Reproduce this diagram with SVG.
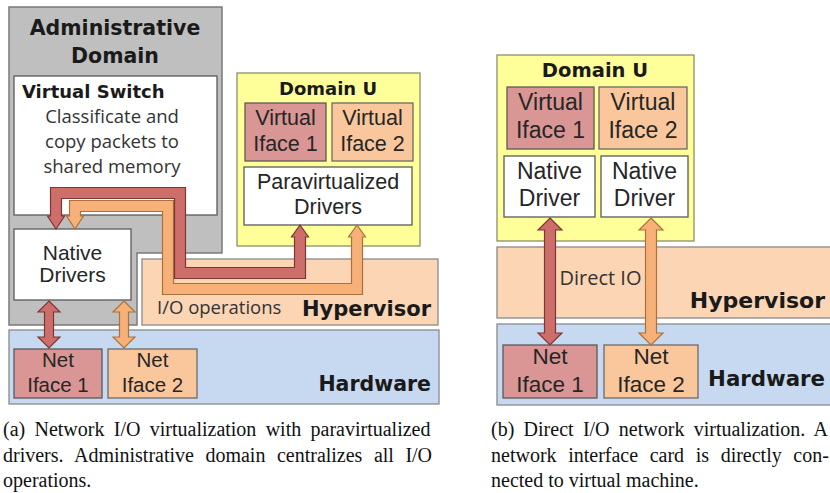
<svg xmlns="http://www.w3.org/2000/svg" width="830" height="493" viewBox="0 0 830 493">
  <style>
    .bg { fill: #ffffff; }
    .admin { fill: #bfbfbf; stroke: #7a7a7a; stroke-width: 1.5; }
    .white { fill: #ffffff; stroke: #5a5a5a; stroke-width: 1.3; }
    .domu { fill: #ffff99; stroke: #8e8e6a; stroke-width: 1.3; }
    .hyp { fill: #fcd5b5; stroke: #8a8a8a; stroke-width: 1.3; }
    .hw { fill: #c6d9f1; stroke: #8a8a8a; stroke-width: 1.3; }
    .if1 { fill: #d99694; stroke: #5a5a5a; stroke-width: 1.3; }
    .if2 { fill: #fac79c; stroke: #6a6a6a; stroke-width: 1.3; }
    .ar1 { fill: #cd6e6a; stroke: #7d3633; stroke-width: 1.2; stroke-linejoin: miter; }
    .ar2 { fill: #f7b077; stroke: #a8723c; stroke-width: 1.2; stroke-linejoin: miter; }
    .title { font-family: "DejaVu Sans", Verdana, sans-serif; font-weight: bold; fill: #1a1a1a; }
    .lbl { font-family: "Liberation Sans", Arial, sans-serif; fill: #262626; text-anchor: middle; }
    .note { font-family: "Open Sans", "DejaVu Sans", sans-serif; fill: #333333; }
    .cap { font-family: "Liberation Serif", "Times New Roman", serif; font-size: 20px; fill: #111111; }
  </style>

  <rect class="bg" x="0" y="0" width="830" height="493"/>

  <!-- (a) paravirtualized drivers -->
  <g id="admin-domain">
    <path class="admin" d="M9,7 H222 V253 H137 V325 H9 Z"/>
    <text class="title" x="115" y="35" font-size="20.5" text-anchor="middle">Administrative</text>
    <text class="title" x="115" y="63" font-size="20.5" text-anchor="middle">Domain</text>
  </g>

  <g id="virtual-switch">
    <rect class="white" x="14" y="76" width="203" height="139"/>
    <text class="title" x="22" y="98" font-size="18">Virtual Switch</text>
    <text class="note" x="112" y="123" font-size="18.5" text-anchor="middle">Classificate and</text>
    <text class="note" x="112" y="148" font-size="18.5" text-anchor="middle">copy packets to</text>
    <text class="note" x="112" y="173" font-size="18.5" text-anchor="middle">shared memory</text>
  </g>

  <g id="native-drivers">
    <rect class="white" x="14" y="229" width="117" height="71"/>
    <text class="lbl" x="72.5" y="260" font-size="21">Native</text>
    <text class="lbl" x="72.5" y="282" font-size="21">Drivers</text>
  </g>

  <g id="hypervisor-a">
    <rect class="hyp" x="142" y="259" width="296" height="66"/>
    <text class="note" x="157" y="314" font-size="18.5">I/O operations</text>
    <text class="title" x="431" y="316" font-size="21" text-anchor="end">Hypervisor</text>
  </g>

  <g id="hardware-a">
    <rect class="hw" x="9" y="330" width="430" height="74"/>
    <text class="title" x="431" y="391" font-size="20.5" text-anchor="end">Hardware</text>
  </g>

  <g id="net-iface-1-a">
    <rect class="if1" x="14" y="349" width="88" height="49"/>
    <text class="lbl" x="58" y="367" font-size="20.5">Net</text>
    <text class="lbl" x="58" y="392" font-size="20.5">Iface 1</text>
  </g>

  <g id="net-iface-2-a">
    <rect class="if2" x="108" y="349" width="89" height="49"/>
    <text class="lbl" x="152.5" y="367" font-size="20.5">Net</text>
    <text class="lbl" x="152.5" y="392" font-size="20.5">Iface 2</text>
  </g>

  <g id="domain-u-a">
    <rect class="domu" x="237" y="73" width="183" height="173"/>
    <text class="title" x="328" y="95" font-size="18" text-anchor="middle">Domain U</text>
  </g>

  <g id="virtual-iface-1-a">
    <rect class="if1" x="245" y="103" width="81" height="58"/>
    <text class="lbl" x="285.5" y="125" font-size="21.5">Virtual</text>
    <text class="lbl" x="285.5" y="151" font-size="21.5">Iface 1</text>
  </g>

  <g id="virtual-iface-2-a">
    <rect class="if2" x="332" y="103" width="81" height="58"/>
    <text class="lbl" x="372.5" y="125" font-size="21.5">Virtual</text>
    <text class="lbl" x="372.5" y="151" font-size="21.5">Iface 2</text>
  </g>

  <g id="paravirtualized-drivers">
    <rect class="white" x="244" y="167" width="168" height="58"/>
    <text class="lbl" x="328" y="189" font-size="21.5">Paravirtualized</text>
    <text class="lbl" x="328" y="214" font-size="21.5">Drivers</text>
  </g>

  <!-- (b) direct I/O -->
  <g id="domain-u-b">
    <rect class="domu" x="497" y="55" width="197" height="186"/>
    <text class="title" x="595" y="77" font-size="19.5" text-anchor="middle">Domain U</text>
  </g>

  <g id="virtual-iface-1-b">
    <rect class="if1" x="507" y="87" width="87" height="62"/>
    <text class="lbl" x="550.5" y="110" font-size="23">Virtual</text>
    <text class="lbl" x="550.5" y="138" font-size="23">Iface 1</text>
  </g>

  <g id="virtual-iface-2-b">
    <rect class="if2" x="599" y="87" width="88" height="62"/>
    <text class="lbl" x="643" y="110" font-size="23">Virtual</text>
    <text class="lbl" x="643" y="138" font-size="23">Iface 2</text>
  </g>

  <g id="native-driver-1-b">
    <rect class="white" x="504" y="156" width="91" height="61"/>
    <text class="lbl" x="549.5" y="179" font-size="23">Native</text>
    <text class="lbl" x="549.5" y="206" font-size="23">Driver</text>
  </g>

  <g id="native-driver-2-b">
    <rect class="white" x="601" y="156" width="87" height="61"/>
    <text class="lbl" x="644.5" y="179" font-size="23">Native</text>
    <text class="lbl" x="644.5" y="206" font-size="23">Driver</text>
  </g>

  <g id="hypervisor-b">
    <rect class="hyp" x="497" y="247" width="340" height="71"/>
    <text class="note" x="600.5" y="285" font-size="20" text-anchor="middle">Direct IO</text>
    <text class="title" x="825" y="308" font-size="22" text-anchor="end">Hypervisor</text>
  </g>

  <g id="hardware-b">
    <rect class="hw" x="497" y="324" width="340" height="81"/>
    <text class="title" x="825" y="386" font-size="21.3" text-anchor="end">Hardware</text>
  </g>

  <g id="net-iface-1-b">
    <rect class="if1" x="503" y="345" width="94" height="53"/>
    <text class="lbl" x="550" y="364" font-size="22.5">Net</text>
    <text class="lbl" x="550" y="392" font-size="22.5">Iface 1</text>
  </g>

  <g id="net-iface-2-b">
    <rect class="if2" x="604" y="345" width="94" height="53"/>
    <text class="lbl" x="651" y="364" font-size="22.5">Net</text>
    <text class="lbl" x="651" y="392" font-size="22.5">Iface 2</text>
  </g>

  <!-- connectors -->
  <g id="connectors">
    <!-- bent arrows: virtual switch to paravirtualized drivers -->
    <polygon class="ar2" points="75,229 66.5,216 69.5,216 69.5,200.5 173.5,200.5 173.5,283.5 351.5,283.5 351.5,237 348.5,237 357,225 365.5,237 362.5,237 362.5,294.5 162.5,294.5 162.5,211.5 80.5,211.5 80.5,216 83.5,216"/>
    <polygon class="ar1" points="56,229 47.5,216 50.5,216 50.5,187.5 185.5,187.5 185.5,267.5 294.5,267.5 294.5,237 291.5,237 300,225 308.5,237 305.5,237 305.5,278.5 174.5,278.5 174.5,198.5 61.5,198.5 61.5,216 64.5,216"/>
    <!-- native drivers to net interfaces -->
    <polygon class="ar1" points="49,301 60,312 53.5,312 53.5,337 60,337 49,348 38,337 44.5,337 44.5,312 38,312"/>
    <polygon class="ar2" points="124,301 135,312 128.5,312 128.5,337 135,337 124,348 113,337 119.5,337 119.5,312 113,312"/>
    <!-- direct I/O -->
    <polygon class="ar1" points="550,218 562,230 555.5,230 555.5,333 562,333 550,345 538,333 544.5,333 544.5,230 538,230"/>
    <polygon class="ar2" points="651,218 663,230 656.5,230 656.5,333 663,333 651,345 639,333 645.5,333 645.5,230 639,230"/>
  </g>

  <!-- captions -->
  <g id="captions">
    <text class="cap" x="3" y="436" word-spacing="4.3">(a) Network I/O virtualization with paravirtualized</text>
    <text class="cap" x="3" y="462" word-spacing="6.5">drivers. Administrative domain centralizes all I/O</text>
    <text class="cap" x="3" y="487">operations.</text>
    <text class="cap" x="491" y="436" word-spacing="4.3">(b) Direct I/O network virtualization. A</text>
    <text class="cap" x="491" y="462" word-spacing="6.6">network interface card is directly con-</text>
    <text class="cap" x="491" y="487">nected to virtual machine.</text>
  </g>
</svg>
